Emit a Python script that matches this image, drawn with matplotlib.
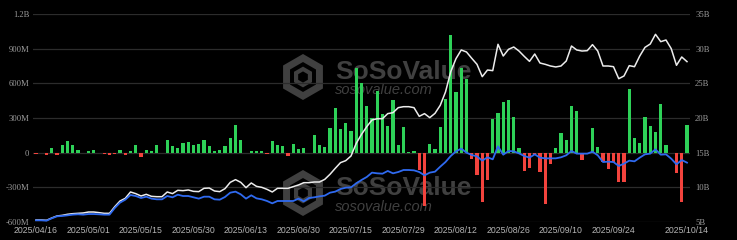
import numpy as np
import pandas as pd
import matplotlib
matplotlib.use("Agg")
import matplotlib.pyplot as plt
from matplotlib.patches import RegularPolygon

# -----------------------------
# Data
# -----------------------------
holidays = ["2025-04-18", "2025-05-26", "2025-06-19", "2025-07-04", "2025-09-01"]
dates = pd.bdate_range("2025-04-16", "2025-10-14", freq="C", holidays=holidays)
date_labels = [d.strftime("%Y/%m/%d") for d in dates]
label_idx = [0, 10, 20, 30, 40, 50, 60, 70, 80, 90, 100, 110, 124]

# daily net inflow, million USD
inflow = [
    -12, 0, -23, 37, -23, 63, 104, 66, 20, -3,
    12, 20, 0, -14, -17, -14, 20, -17, 14, 63,
    -40, 20, 14, 66, 0, 112, 58, 37, 84, 89,
    66, 78, 110, 58, 12, 23, 55, 124, 242, 112,
    -3, 17, 12, 14, -14, 98, 66, 61, -26, 78,
    35, 40, -2, 150, 63, 46, 211, 384, 205, 260,
    190, 730, 603, 404, 300, 534, 332, 234, 453, 66,
    219, 9, 12, -150, -461, 72, 35, 222, 462, 1021,
    525, 730, 635, -55, -196, -427, -234, 289, 340, 441,
    456, 309, 37, -162, -133, -17, -164, -444, -95, 43,
    173, 112, 404, 358, -61, 0, 211, 46, -81, -138,
    -81, -251, -251, 548, 127, 81, 306, 234, 182, 418,
    69, -6, -173, -427, 237,
]

# white line, billion USD (right axis)
total_assets = [
    5.29, 5.29, 5.24, 5.58, 5.87, 5.96, 6.11, 6.20, 6.25, 6.30,
    6.44, 6.44, 6.35, 6.25, 6.25, 7.21, 8.03, 8.41, 9.33, 9.09,
    8.75, 8.99, 8.70, 8.65, 8.65, 9.33, 9.09, 9.57, 9.52, 9.62,
    9.42, 9.38, 9.86, 9.90, 9.47, 9.38, 9.81, 10.72, 11.11, 10.72,
    9.95, 10.63, 10.14, 10.00, 9.71, 9.33, 9.86, 9.86, 9.86, 10.10,
    10.34, 10.67, 10.67, 10.77, 10.77, 11.15, 11.88, 12.74, 13.56, 13.85,
    14.52, 16.35, 17.64, 18.75, 19.71, 19.90, 19.90, 20.63, 20.77, 21.49,
    21.63, 21.63, 21.49, 20.24, 20.63, 20.05, 20.67, 21.83, 23.75, 26.68,
    28.56, 29.81, 29.52, 28.61, 27.74, 25.96, 26.92, 26.83, 30.63, 28.94,
    29.90, 30.24, 29.66, 28.89, 28.17, 29.23, 27.93, 27.74, 27.50, 27.36,
    27.50, 28.22, 30.38, 29.81, 29.66, 29.71, 30.58, 29.66, 27.50, 27.50,
    27.40, 25.67, 26.06, 27.55, 27.40, 28.94, 30.19, 30.67, 32.07, 31.01,
    31.25, 30.00, 27.60, 28.80, 28.13,
]

# blue line, right axis
blue_line = [
    5.24, 5.24, 5.19, 5.53, 5.82, 5.87, 5.96, 6.06, 6.11, 6.06,
    6.15, 6.15, 6.11, 6.06, 6.06, 7.02, 7.79, 8.22, 8.89, 8.75,
    8.46, 8.65, 8.37, 8.27, 8.27, 8.75, 8.56, 8.94, 8.75, 8.75,
    8.56, 8.37, 8.65, 8.65, 8.27, 8.22, 8.61, 9.23, 9.38, 8.99,
    8.37, 8.85, 8.41, 8.27, 8.03, 7.69, 8.03, 8.03, 8.03, 8.03,
    8.37, 7.98, 8.46, 8.56, 8.70, 8.80, 9.23, 9.38, 9.76, 9.95,
    10.00, 10.58, 11.06, 11.49, 12.12, 12.02, 11.97, 12.36, 12.02, 12.21,
    12.50, 12.50, 12.45, 12.21, 11.73, 12.12, 12.26, 12.98, 13.65, 14.52,
    15.19, 15.58, 15.00, 14.66, 14.47, 13.85, 14.33, 14.04, 15.91, 14.71,
    15.24, 15.19, 14.90, 14.52, 14.28, 14.76, 14.28, 14.18, 14.18, 14.18,
    14.33, 14.62, 15.24, 14.86, 14.86, 14.86, 15.14, 14.62, 13.65, 13.70,
    13.65, 13.08, 13.41, 13.85, 13.75, 14.28, 14.76, 14.86, 15.48, 14.71,
    14.76, 14.13, 13.32, 13.94, 13.56,
]

left_ticks = [-600, -300, 0, 300, 600, 900, 1200]
left_labels = ["-600M", "-300M", "0", "300M", "600M", "900M", "1.2B"]
right_ticks = [5, 10, 15, 20, 25, 30, 35]
right_labels = ["5B", "10B", "15B", "20B", "25B", "30B", "35B"]

# -----------------------------
# Figure
# -----------------------------
bg = "#000000"
green = "#2ed158"
red = "#f2433d"
blue = "#2f6af0"
wm = "#404040"   # watermark grey

fig = plt.figure(figsize=(7.37, 2.40), dpi=100, facecolor=bg)

# watermark sits behind the (transparent) axes
def watermark(cx, cy):
    for r, w in [(19, 5), (8, 3)]:
        fig.patches.append(RegularPolygon((cx, cy), numVertices=6, radius=r, orientation=0,
                                          transform=None, fill=False, ec=wm, lw=w, zorder=-2))

watermark(303, 240 - 77)
watermark(303, 240 - 193)
for ty, sy in [(72, 90), (188, 207)]:
    fig.text(335 / 737, 1 - ty / 240, "SoSoValue", fontsize=19, fontweight="bold",
             family="Liberation Sans", color=wm, va="center", ha="left", zorder=-2)
    fig.text(335 / 737, 1 - sy / 240, "sosovalue.com", fontsize=10.5, style="italic",
             family="Liberation Sans", color=wm, va="center", ha="left", zorder=-2)

ax = fig.add_axes([0.0453, 0.075, 0.8904, 0.8667])
ax.patch.set_alpha(0)
x = np.arange(len(dates))
vals = np.array(inflow)
colors = [green if v >= 0 else red for v in vals]
ax.bar(x, vals, width=0.62, color=colors, zorder=2)

ax.set_xlim(-0.5, len(dates) - 0.5)
ax.set_ylim(-600, 1200)
ax.set_yticks(left_ticks)
ax.set_yticklabels(left_labels, family="Liberation Serif", fontsize=6.2, color="#9a9a9a")
ax.set_xticks(label_idx)
ax.set_xticklabels([date_labels[i] for i in label_idx], family="Liberation Sans",
                   fontsize=6.3, color="#b5b5b5")
ax.tick_params(length=0, pad=3)
ax.grid(axis="y", color="#2c2c2c", lw=0.9, zorder=0)
for s in ax.spines.values():
    s.set_visible(False)

ax2 = ax.twinx()
ax2.plot(x, total_assets, color="#ececec", lw=1.1, zorder=3)
ax2.plot(x, blue_line, color=blue, lw=1.3, zorder=3)
ax2.set_ylim(5, 35)
ax2.set_yticks(right_ticks)
ax2.set_yticklabels(right_labels, family="Liberation Serif", fontsize=6.2, color="#9a9a9a")
ax2.tick_params(length=0, pad=4)
for s in ax2.spines.values():
    s.set_visible(False)

fig.savefig("out.png", dpi=100, facecolor=bg)
